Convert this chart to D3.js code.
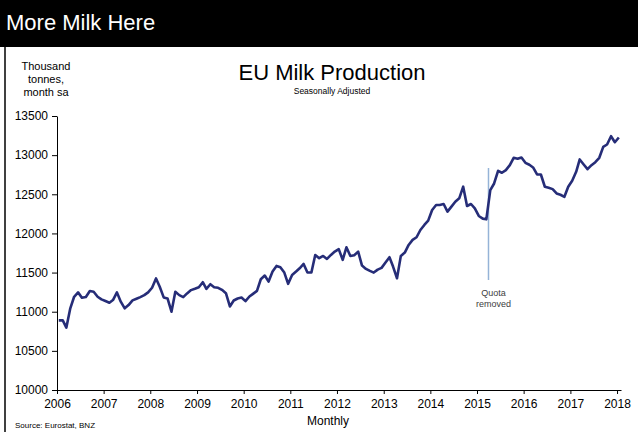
<!DOCTYPE html>
<html>
  <head>
    <script src="https://d3js.org/d3.v7.min.js"></script>
    <style type="text/css">
      body { margin: 0; background: #fff; }
      svg { display: block; font-family: "Liberation Sans", Arial, sans-serif; }
      .axis text { font-size: 12px; fill: #000; }
      .axis path, .axis line { stroke: #000; stroke-width: 1px; }
    </style>
  </head>
  <body>
    <div id="chart"></div>
  <script type="text/javascript">

    // EU milk production, thousand tonnes per month, seasonally adjusted, Jan 2006 onward
    var startYear = 2006;
    var milk = [
      10890, 10890, 10796, 11043, 11191, 11247, 11179, 11187, 11264, 11255, 11191, 11157,
      11136, 11115, 11149, 11247, 11128, 11043, 11085, 11145, 11166, 11187, 11212, 11247,
      11306, 11425, 11319, 11183, 11170, 11000, 11255, 11212, 11187, 11234, 11276, 11293,
      11312, 11377, 11292, 11351, 11313, 11305, 11279, 11237, 11067, 11143, 11169, 11181,
      11135, 11194, 11228, 11266, 11415, 11462, 11385, 11513, 11585, 11568, 11500, 11356,
      11470, 11513, 11555, 11610, 11500, 11500, 11725, 11683, 11712, 11674, 11725, 11768,
      11800, 11662, 11823, 11712, 11721, 11768, 11589, 11547, 11521, 11500, 11538, 11560,
      11628, 11696, 11577, 11428, 11713, 11755, 11853, 11917, 11951, 12044, 12108, 12163,
      12299, 12363, 12363, 12376, 12278, 12342, 12405, 12448, 12597, 12350, 12376, 12320,
      12223, 12189, 12180, 12553, 12638, 12800, 12775, 12809, 12872, 12966, 12953, 12970,
      12902, 12877, 12843, 12753, 12753, 12596, 12583, 12566, 12511, 12494, 12468, 12596,
      12672, 12787, 12945, 12881, 12821, 12872, 12910, 12966, 13106, 13136, 13242, 13165,
      13225
    ];
    var yTicks = [10000, 10500, 11000, 11500, 12000, 12500, 13000, 13500];
    var quotaDate = new Date(2015, 3, 1);
    var quotaLabel = ["Quota", "removed"];
    var unitLabel = ["Thousand", "tonnes,", "month sa"];

    var width = 638;
    var height = 432;

    var data = milk.map(function(v, i) {
      return { date: new Date(startYear, i, 15), value: v };
    });

    var svg = d3.select("#chart")
      .append("svg")
        .attr("width", width)
        .attr("height", height);

    // header bar
    svg.append("rect")
      .attr("x", 0).attr("y", 0)
      .attr("width", width).attr("height", 47)
      .attr("fill", "#000");

    svg.append("text")
      .attr("x", 6).attr("y", 30)
      .attr("fill", "#fff")
      .style("font-size", "22px")
      .text("More Milk Here");

    svg.append("line")
      .attr("x1", 5).attr("x2", 5)
      .attr("y1", 47).attr("y2", height)
      .attr("stroke", "#000")
      .attr("stroke-width", 1.5);

    var x = d3.scaleTime()
      .domain([new Date(2006, 0, 1), new Date(2018, 1, 1)])
      .range([57, 621]);

    var y = d3.scaleLinear()
      .domain([10000, 13500])
      .range([390, 116]);

    svg.append("g")
      .attr("class", "axis")
      .attr("transform", "translate(0,390)")
      .call(d3.axisBottom(x)
        .ticks(d3.timeYear.every(1))
        .tickFormat(d3.timeFormat("%Y"))
        .tickSize(4)
        .tickSizeOuter(0))
      .selectAll("text")
        .attr("dy", "0.9em");

    svg.append("g")
      .attr("class", "axis")
      .attr("transform", "translate(57,0)")
      .call(d3.axisLeft(y)
        .tickValues(yTicks)
        .tickFormat(d3.format("d"))
        .tickSize(5)
        .tickSizeOuter(0)
        .tickPadding(4));

    // titles
    svg.append("text")
      .attr("x", 332).attr("y", 80)
      .attr("text-anchor", "middle")
      .style("font-size", "22px")
      .text("EU Milk Production");

    svg.append("text")
      .attr("x", 332).attr("y", 94)
      .attr("text-anchor", "middle")
      .style("font-size", "8.5px")
      .text("Seasonally Adjusted");

    svg.append("g")
      .selectAll("text")
      .data(unitLabel)
      .enter()
      .append("text")
        .attr("x", 46)
        .attr("y", function(d, i) { return 70 + i * 13; })
        .attr("text-anchor", "middle")
        .style("font-size", "11px")
        .text(function(d) { return d; });

    svg.append("text")
      .attr("x", 328).attr("y", 425)
      .attr("text-anchor", "middle")
      .style("font-size", "12px")
      .text("Monthly");

    svg.append("text")
      .attr("x", 15).attr("y", 428)
      .style("font-size", "8px")
      .text("Source: Eurostat, BNZ");

    // quota marker
    var qx = x(quotaDate);
    svg.append("line")
      .attr("x1", qx).attr("x2", qx)
      .attr("y1", 168).attr("y2", 280)
      .attr("stroke", "#95b3d7")
      .attr("stroke-width", 1.5);

    svg.append("g")
      .selectAll("text")
      .data(quotaLabel)
      .enter()
      .append("text")
        .attr("x", qx + 5)
        .attr("y", function(d, i) { return 296 + i * 11; })
        .attr("text-anchor", "middle")
        .attr("fill", "#404040")
        .style("font-size", "9px")
        .text(function(d) { return d; });

    var valueline = d3.line()
      .x(function(d) { return x(d.date); })
      .y(function(d) { return y(d.value); });

    svg.append("path")
      .datum(data)
      .attr("fill", "none")
      .attr("stroke", "#262d78")
      .attr("stroke-width", 2.6)
      .attr("stroke-linejoin", "round")
      .attr("d", valueline);

  </script>
  </body>
</html>
